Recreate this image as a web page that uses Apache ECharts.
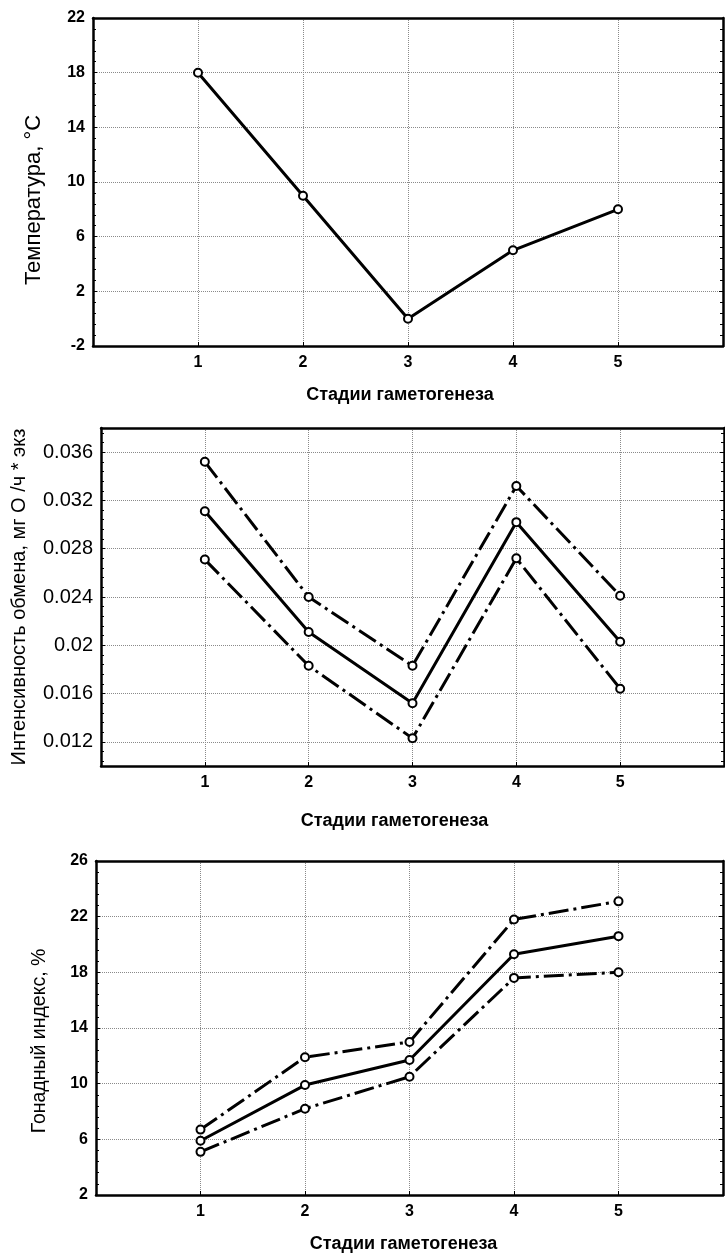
<!DOCTYPE html>
<html>
<head>
<meta charset="utf-8">
<script src="https://cdn.jsdelivr.net/npm/echarts@6/dist/echarts.min.js"></script>
<style>
  html, body { margin: 0; padding: 0; background: #fff; }
  #chart-container { width: 725px; height: 1256px; }
</style>
</head>
<body>
<div id="chart-container"></div>
<script>
// stages of gametogenesis (x)
const stages = [1, 2, 3, 4, 5];

// panel 1: temperature, °C
const temperature = [18, 9, 0, 5, 8];

// panel 2: metabolic rate, mean and confidence bounds
const metabMean = [0.0311, 0.0211, 0.0152, 0.0302, 0.0203];
const metabUpper = [0.0352, 0.024, 0.0183, 0.0332, 0.0241];
const metabLower = [0.0271, 0.0183, 0.0123, 0.0272, 0.0164];

// panel 3: gonad index, %
const gonadMean = [5.9, 9.9, 11.7, 19.3, 20.6];
const gonadUpper = [6.7, 11.9, 13.0, 21.8, 23.1];
const gonadLower = [5.1, 8.2, 10.5, 17.6, 18.0];

const xTitle = "Стадии гаметогенеза";
const yTitles = [
  "Температура, °C",
  "Интенсивность обмена, мг O /ч * экз",
  "Гонадный индекс, %",
];

const font = "'Liberation Sans', Arial, sans-serif";

const toPoints = (vals) => stages.map((s, i) => [s, vals[i]]);

const gridLine = { show: true, lineStyle: { color: "#8a8a8a", type: "dotted", width: 1 } };
const frameLine = { show: true, onZero: false, lineStyle: { color: "#000", width: 2.5 } };
const tick = { show: true, inside: false, length: -4, lineStyle: { color: "#000" } };
const minor = { show: true, splitNumber: 5, length: -3, lineStyle: { color: "#000" } };

const xAxes = [];
const yAxes = [];

// one panel: bottom + top x axes, left + right y axes
function addAxes(gridIndex, yOpts, p) {
  xAxes.push({
    type: "value",
    gridIndex: gridIndex,
    min: 0,
    max: 6,
    interval: 1,
    axisLine: frameLine,
    axisTick: tick,
    axisLabel: {
      showMinLabel: false,
      showMaxLabel: false,
      color: "#000",
      fontFamily: font,
      fontWeight: "bold",
      fontSize: 16,
      margin: 9,
    },
    splitLine: gridLine,
    name: xTitle,
    nameLocation: "middle",
    nameGap: p.xGap,
    nameTextStyle: {
      color: "#000",
      fontFamily: font,
      fontWeight: "bold",
      fontSize: 18,
      padding: [0, p.xShift, 0, 0],
    },
  });
  xAxes.push({
    type: "value",
    gridIndex: gridIndex,
    position: "top",
    min: 0,
    max: 6,
    interval: 1,
    axisLine: frameLine,
    axisTick: { show: false },
    axisLabel: { show: false },
    splitLine: { show: false },
  });
  yAxes.push(Object.assign({
    type: "value",
    gridIndex: gridIndex,
    axisLine: frameLine,
    axisTick: tick,
    minorTick: minor,
    axisLabel: {
      showMinLabel: p.edgeLabels,
      showMaxLabel: p.edgeLabels,
      color: "#000",
      fontFamily: font,
      fontWeight: p.labelWeight,
      fontSize: p.labelSize,
      margin: 8,
    },
    splitLine: gridLine,
    name: p.yName,
    nameLocation: "middle",
    nameRotate: 90,
    nameGap: p.yGap,
    nameTextStyle: {
      color: "#000",
      fontFamily: font,
      fontSize: p.nameSize,
      padding: [0, p.shift, 0, 0],
    },
  }, yOpts));
  yAxes.push(Object.assign({
    type: "value",
    gridIndex: gridIndex,
    position: "right",
    axisLine: frameLine,
    axisTick: tick,
    minorTick: minor,
    axisLabel: { show: false },
    splitLine: { show: false },
  }, yOpts));
}

addAxes(0, { min: -2, max: 22, interval: 4 }, {
  xGap: 40, xShift: 16, yGap: 48, yName: yTitles[0], nameSize: 22, shift: 36,
  labelSize: 16, labelWeight: "bold", edgeLabels: true,
});
addAxes(1, { min: 0.01, max: 0.038, minInterval: 0.004, maxInterval: 0.004 }, {
  xGap: 46, xShift: 36, yGap: 72, yName: yTitles[1], nameSize: 20, shift: 0,
  labelSize: 20, labelWeight: "normal", edgeLabels: false,
});
addAxes(2, { min: 2, max: 26, interval: 4 }, {
  xGap: 40, xShift: 12, yGap: 46, yName: yTitles[2], nameSize: 19.5, shift: 26,
  labelSize: 16, labelWeight: "bold", edgeLabels: true,
});

function lineSeries(idx, vals, dashed) {
  return {
    type: "line",
    xAxisIndex: idx * 2,
    yAxisIndex: idx * 2,
    data: toPoints(vals),
    symbol: "circle",
    symbolSize: 8,
    showSymbol: true,
    itemStyle: { color: "#fff", borderColor: "#000", borderWidth: 2 },
    lineStyle: { color: "#000", width: 3, type: dashed ? [20, 5, 3, 5] : "solid" },
    emphasis: { disabled: true },
    z: dashed ? 2 : 3,
  };
}

const myChart = echarts.init(document.getElementById("chart-container"));

const option = {
  animation: false,
  backgroundColor: "#fff",
  grid: [
    { left: 93, top: 18, width: 630, height: 328 },
    { left: 101, top: 428, width: 623, height: 338 },
    { left: 96, top: 861, width: 627, height: 334 },
  ],
  xAxis: xAxes,
  yAxis: yAxes,
  series: [
    lineSeries(0, temperature, false),
    lineSeries(1, metabUpper, true),
    lineSeries(1, metabMean, false),
    lineSeries(1, metabLower, true),
    lineSeries(2, gonadUpper, true),
    lineSeries(2, gonadMean, false),
    lineSeries(2, gonadLower, true),
  ],
};

myChart.setOption(option);
</script>
</body>
</html>
